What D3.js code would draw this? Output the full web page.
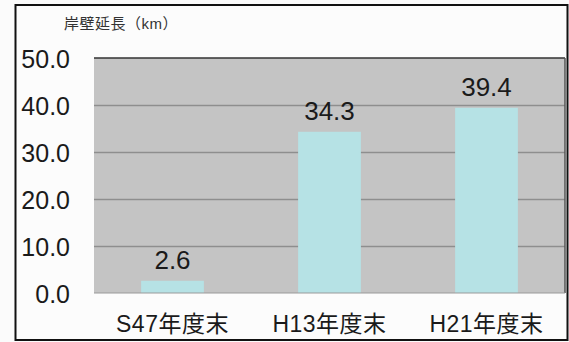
<!DOCTYPE html>
<html>
<head>
<meta charset="utf-8">
<script src="https://cdn.jsdelivr.net/npm/d3@7"></script>
<style>
  body { margin: 0; background: #fbfbfb; }
  svg { display: block; }
</style>
</head>
<body>
<div id="vis"></div>
<script>
// data
const CATEGORIES = ["S47年度末", "H13年度末", "H21年度末"];
const VALUES = [2.6, 34.3, 39.4];
const Y_TICKS = [0, 10, 20, 30, 40, 50];
const TITLE = "岸壁延長（km）";

const FRAME_WIDTH = 569;
const FRAME_HEIGHT = 342;
const PLOT = {left: 94, right: 565, top: 58, bottom: 293};

const FONT = "'Liberation Sans', Arial, 'Noto Sans CJK JP', sans-serif";

const svg = d3.select("#vis")
  .append("svg")
  .attr("width", FRAME_WIDTH)
  .attr("height", FRAME_HEIGHT);

// outer frame
svg.append("rect")
  .attr("x", 0).attr("y", 0)
  .attr("width", FRAME_WIDTH).attr("height", FRAME_HEIGHT)
  .attr("fill", "#fbfbfb");
svg.append("rect")
  .attr("x", 15.5).attr("y", 5)
  .attr("width", 552).attr("height", 335)
  .attr("fill", "#fcfcfc")
  .attr("stroke", "#111")
  .attr("stroke-width", 2);

const x = d3.scaleBand()
  .domain(CATEGORIES)
  .range([PLOT.left, PLOT.right])
  .paddingInner(0.6)
  .paddingOuter(0.3);

const y = d3.scaleLinear()
  .domain([0, 50])
  .range([PLOT.bottom, PLOT.top]);

// plot area background
svg.append("rect")
  .attr("x", PLOT.left).attr("y", PLOT.top)
  .attr("width", PLOT.right - PLOT.left)
  .attr("height", PLOT.bottom - PLOT.top)
  .attr("fill", "#c4c4c4");

// gridlines
svg.append("g")
  .selectAll("line")
  .data(Y_TICKS.filter(d => d > 0 && d < 50))
  .enter()
  .append("line")
  .attr("x1", PLOT.left).attr("x2", PLOT.right)
  .attr("y1", d => Math.round(y(d)) + 0.5)
  .attr("y2", d => Math.round(y(d)) + 0.5)
  .attr("stroke", "#8e8e8e")
  .attr("stroke-width", 1.5);

// bars
svg.append("g")
  .selectAll("rect")
  .data(VALUES)
  .enter()
  .append("rect")
  .attr("x", (d, i) => x(CATEGORIES[i]))
  .attr("y", d => y(d))
  .attr("width", x.bandwidth())
  .attr("height", d => y(0) - y(d))
  .attr("fill", "#b6e2e5");

// plot border: top and right dark, bottom lighter
svg.append("line")
  .attr("x1", PLOT.left).attr("x2", PLOT.right)
  .attr("y1", PLOT.top).attr("y2", PLOT.top)
  .attr("stroke", "#333").attr("stroke-width", 1.5);
svg.append("line")
  .attr("x1", PLOT.right).attr("x2", PLOT.right)
  .attr("y1", PLOT.top).attr("y2", PLOT.bottom)
  .attr("stroke", "#555").attr("stroke-width", 1.5);
svg.append("line")
  .attr("x1", PLOT.left).attr("x2", PLOT.right)
  .attr("y1", PLOT.bottom).attr("y2", PLOT.bottom)
  .attr("stroke", "#9a9a9a").attr("stroke-width", 1);

// y axis (labels only)
const yAxis = svg.append("g")
  .attr("transform", "translate(" + (PLOT.left - 24) + ",0)")
  .call(d3.axisLeft(y).tickValues(Y_TICKS).tickFormat(d3.format(".1f")).tickSize(0).tickPadding(0));
yAxis.select(".domain").remove();
yAxis.selectAll("text")
  .attr("font-family", FONT)
  .attr("font-size", "25px")
  .attr("fill", "#1a1a1a")
  .attr("dy", "0.36em");

// x axis (labels only)
const xAxis = svg.append("g")
  .attr("transform", "translate(0," + PLOT.bottom + ")")
  .call(d3.axisBottom(x).tickSize(0).tickPadding(0));
xAxis.select(".domain").remove();
xAxis.selectAll("text")
  .attr("font-family", FONT)
  .attr("font-size", "23px")
  .attr("letter-spacing", "0.5px")
  .attr("fill", "#1a1a1a")
  .attr("dy", null)
  .attr("y", 39);

// value labels
svg.append("g")
  .selectAll("text")
  .data(VALUES)
  .enter()
  .append("text")
  .attr("x", (d, i) => x(CATEGORIES[i]) + x.bandwidth() / 2)
  .attr("y", d => y(d) - 12)
  .attr("text-anchor", "middle")
  .attr("font-family", FONT)
  .attr("font-size", "26px")
  .attr("fill", "#1a1a1a")
  .text(d => d.toFixed(1));

// title
svg.append("text")
  .attr("x", 64)
  .attr("y", 29)
  .attr("font-family", FONT)
  .attr("font-size", "15px")
  .attr("letter-spacing", "0.5px")
  .attr("fill", "#333")
  .text(TITLE);
</script>
</body>
</html>
